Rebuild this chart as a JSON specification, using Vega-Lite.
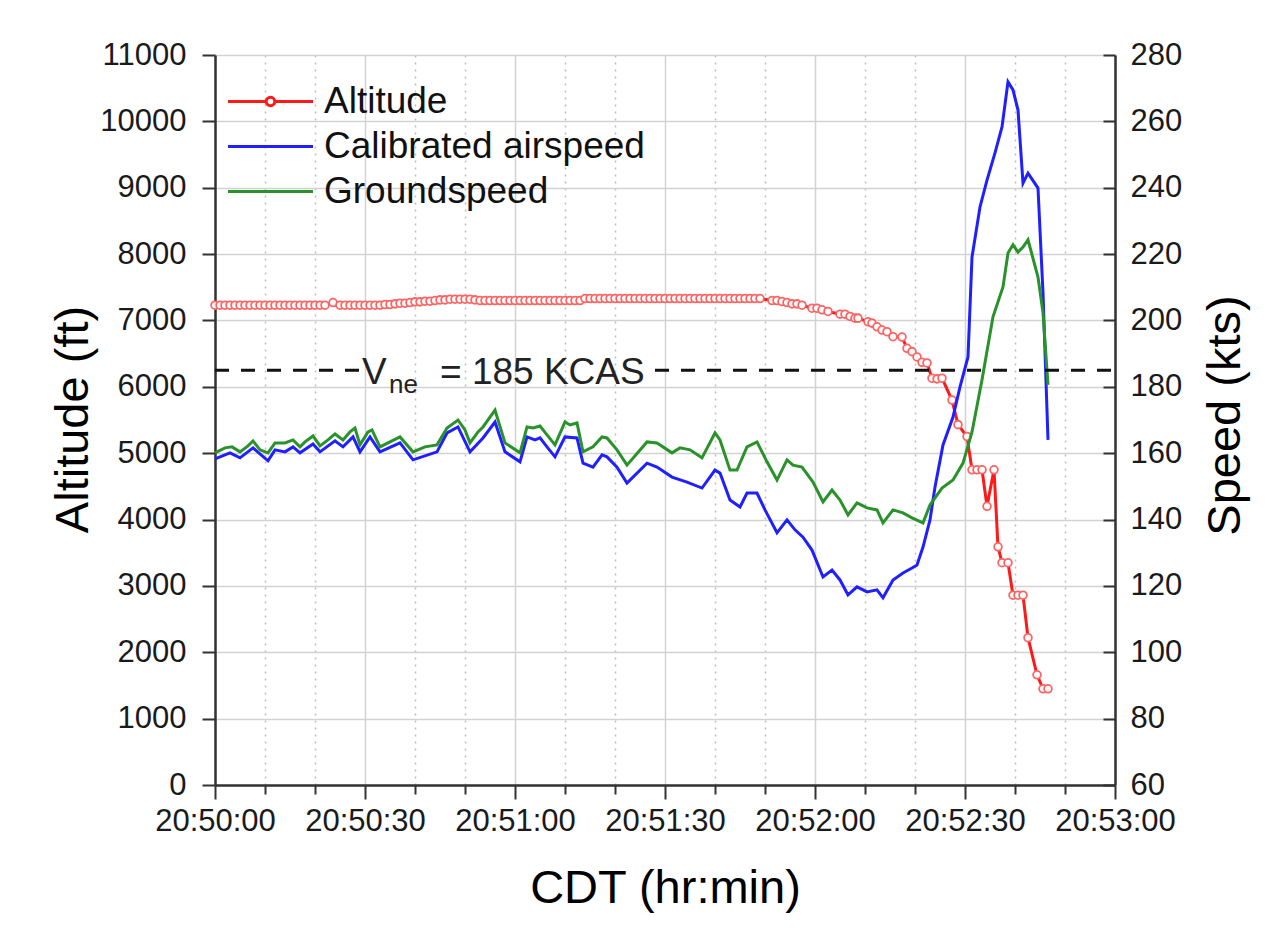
{
  "$schema": "https://vega.github.io/schema/vega-lite/v6.json",
  "autosize": {"type": "none"},
  "width": 900,
  "height": 730,
  "padding": {"left": 215, "top": 55, "right": 154, "bottom": 143},
  "background": "white",
  "config": {
    "view": {"stroke": null},
    "font": "Liberation Sans",
    "axis": {
      "labelFont": "Liberation Sans",
      "labelFontSize": 31,
      "labelColor": "#1a1a1a",
      "titleFont": "Liberation Sans",
      "titleFontSize": 47,
      "titleFontWeight": "normal",
      "titleColor": "#000000",
      "domainColor": "#333333",
      "domainWidth": 2.5,
      "tickColor": "#333333",
      "tickWidth": 2,
      "labelFlush": false,
      "labelOverlap": false
    },
    "legend": {
      "labelFont": "Liberation Sans",
      "labelFontSize": 37,
      "labelColor": "#111111",
      "labelLimit": 0
    }
  },
  "datasets": {
    "alt": [
      {"t":0,"a":7230},{"t":1,"a":7230},{"t":2,"a":7230},{"t":3,"a":7230},{"t":4,"a":7230},{"t":5,"a":7230},{"t":6,"a":7230},{"t":7,"a":7230},{"t":8,"a":7230},{"t":9,"a":7230},
      {"t":10,"a":7230},{"t":11,"a":7230},{"t":12,"a":7230},{"t":13,"a":7230},{"t":14,"a":7230},{"t":15,"a":7230},{"t":16,"a":7230},{"t":17,"a":7230},{"t":18,"a":7230},{"t":19,"a":7230},
      {"t":20,"a":7230},{"t":21,"a":7230},{"t":22,"a":7230},{"t":23.6,"a":7270},{"t":25,"a":7230},{"t":26,"a":7230},{"t":27,"a":7230},{"t":28,"a":7230},{"t":29,"a":7230},{"t":30,"a":7230},
      {"t":31,"a":7230},{"t":32,"a":7230},{"t":33,"a":7230},{"t":34,"a":7240},{"t":35,"a":7240},{"t":36,"a":7250},{"t":37,"a":7260},{"t":38,"a":7260},{"t":39,"a":7270},{"t":40,"a":7280},
      {"t":41,"a":7280},{"t":42,"a":7290},{"t":43,"a":7290},{"t":44,"a":7300},{"t":45,"a":7310},{"t":46,"a":7310},{"t":47,"a":7320},{"t":48,"a":7320},{"t":49,"a":7320},{"t":50,"a":7320},
      {"t":51,"a":7320},{"t":52,"a":7310},{"t":53,"a":7300},{"t":54,"a":7300},{"t":55,"a":7300},{"t":56,"a":7300},{"t":57,"a":7300},{"t":58,"a":7300},{"t":59,"a":7300},{"t":60,"a":7300},
      {"t":61,"a":7300},{"t":62,"a":7300},{"t":63,"a":7300},{"t":64,"a":7300},{"t":65,"a":7300},{"t":66,"a":7300},{"t":67,"a":7300},{"t":68,"a":7300},{"t":69,"a":7300},{"t":70,"a":7300},
      {"t":71,"a":7300},{"t":72,"a":7300},{"t":73,"a":7300},{"t":74,"a":7330},{"t":75,"a":7330},{"t":76,"a":7330},{"t":77,"a":7330},{"t":78,"a":7330},{"t":79,"a":7330},{"t":80,"a":7330},
      {"t":81,"a":7330},{"t":82,"a":7330},{"t":83,"a":7330},{"t":84,"a":7330},{"t":85,"a":7330},{"t":86,"a":7330},{"t":87,"a":7330},{"t":88,"a":7330},{"t":89,"a":7330},{"t":90,"a":7330},
      {"t":91,"a":7330},{"t":92,"a":7330},{"t":93,"a":7330},{"t":94,"a":7330},{"t":95,"a":7330},{"t":96,"a":7330},{"t":97,"a":7330},{"t":98,"a":7330},{"t":99,"a":7330},{"t":100,"a":7330},
      {"t":101,"a":7330},{"t":102,"a":7330},{"t":103,"a":7330},{"t":104,"a":7330},{"t":105,"a":7330},{"t":106,"a":7330},{"t":107,"a":7330},{"t":108,"a":7330},{"t":109,"a":7330},
      {"t":111.4,"a":7300},{"t":112.4,"a":7300},{"t":113.4,"a":7285},{"t":114.4,"a":7270},{"t":115.4,"a":7250},{"t":116.4,"a":7250},{"t":117.4,"a":7230},{"t":119.4,"a":7185},{"t":120.4,"a":7185},
      {"t":121.4,"a":7160},{"t":122.6,"a":7135},{"t":125,"a":7095},{"t":126,"a":7095},{"t":127,"a":7060},{"t":128,"a":7035},{"t":128.6,"a":7035},{"t":130.6,"a":6980},{"t":131.4,"a":6960},
      {"t":132.4,"a":6905},{"t":133.4,"a":6855},{"t":134.4,"a":6830},{"t":135.6,"a":6755},{"t":137.4,"a":6750},{"t":138.4,"a":6580},{"t":139.4,"a":6530},{"t":140.4,"a":6450},{"t":141.4,"a":6370},
      {"t":142.4,"a":6360},{"t":143.4,"a":6130},{"t":144.4,"a":6120},{"t":145.4,"a":6130},{"t":147.4,"a":5800},{"t":148.6,"a":5430},{"t":150.4,"a":5250},{"t":151.4,"a":4750},{"t":152.4,"a":4750},
      {"t":153.4,"a":4750},{"t":154.4,"a":4200},{"t":155.8,"a":4750},{"t":156.6,"a":3590},{"t":157.4,"a":3350},{"t":158.6,"a":3350},{"t":159.6,"a":2860},{"t":160.6,"a":2860},{"t":161.6,"a":2860},
      {"t":162.6,"a":2220},{"t":164.4,"a":1660},{"t":165.6,"a":1450},{"t":166.6,"a":1450}
    ],
    "cas": [
      {"t":0,"v":158.3},{"t":3,"v":160.1},{"t":5,"v":158.6},{"t":7.6,"v":161.6},{"t":10.6,"v":157.7},{"t":12,"v":161.0},{"t":14,"v":160.4},{"t":15.6,"v":161.9},{"t":17,"v":160.1},
      {"t":19.6,"v":162.8},{"t":21,"v":160.4},{"t":24,"v":163.7},{"t":25.6,"v":161.9},{"t":27.6,"v":164.9},{"t":29,"v":160.4},{"t":31,"v":164.9},{"t":33,"v":160.4},{"t":37,"v":163.1},
      {"t":39.6,"v":158.0},{"t":44.4,"v":160.4},{"t":46.4,"v":166.1},{"t":48.6,"v":167.9},{"t":51,"v":160.4},{"t":53.6,"v":164.6},{"t":56,"v":169.4},{"t":58,"v":160.4},{"t":61,"v":157.4},
      {"t":62.4,"v":164.9},{"t":64,"v":164.0},{"t":65,"v":164.6},{"t":66.4,"v":161.9},{"t":68,"v":158.9},{"t":70,"v":164.9},{"t":72.4,"v":164.6},{"t":73.6,"v":157.0},{"t":75.6,"v":155.8},
      {"t":77.4,"v":159.5},{"t":78.4,"v":158.9},{"t":80.4,"v":155.8},{"t":82.4,"v":151.0},{"t":86.4,"v":157.0},{"t":88.4,"v":155.8},{"t":91.4,"v":152.8},{"t":94.4,"v":151.3},{"t":97.4,"v":149.5},
      {"t":100,"v":154.9},{"t":101,"v":154.0},{"t":103,"v":145.9},{"t":105,"v":143.8},{"t":106.4,"v":148.0},{"t":108.4,"v":148.0},{"t":110,"v":142.9},{"t":112.4,"v":136.0},{"t":114.4,"v":139.9},
      {"t":116,"v":136.9},{"t":117.6,"v":134.7},{"t":119.4,"v":130.8},{"t":121.6,"v":122.7},{"t":123.4,"v":124.8},{"t":125,"v":121.8},{"t":126.6,"v":117.3},{"t":128.4,"v":119.7},{"t":130.4,"v":118.2},
      {"t":132.4,"v":118.8},{"t":133.6,"v":116.4},{"t":135.6,"v":121.8},{"t":137.6,"v":123.9},{"t":139.4,"v":125.4},{"t":140.4,"v":126.3},{"t":141.6,"v":131.7},{"t":143,"v":139.9},{"t":144,"v":149.8},
      {"t":145.6,"v":162.5},{"t":147.6,"v":170.9},{"t":149,"v":180.0},{"t":150.6,"v":189.0},{"t":151.4,"v":219.1},{"t":153,"v":234.2},{"t":154.4,"v":242.3},{"t":156,"v":250.5},{"t":157.4,"v":258.3},
      {"t":158.6,"v":271.9},{"t":159.6,"v":269.5},{"t":160.6,"v":263.4},{"t":161.6,"v":241.4},{"t":162.6,"v":244.4},{"t":164.6,"v":239.9},{"t":165.6,"v":208.3},{"t":166.6,"v":164.0}
    ],
    "gs": [
      {"t":0,"v":160.1},{"t":2,"v":161.6},{"t":3.4,"v":161.9},{"t":5,"v":160.4},{"t":6.6,"v":162.2},{"t":7.6,"v":163.7},{"t":9,"v":161.0},{"t":10.6,"v":160.1},{"t":12,"v":163.1},
      {"t":14,"v":163.1},{"t":15.6,"v":164.0},{"t":17,"v":161.9},{"t":18,"v":163.4},{"t":19.6,"v":165.2},{"t":21,"v":162.2},{"t":22.6,"v":164.0},{"t":24,"v":165.8},{"t":25.6,"v":164.0},
      {"t":27,"v":166.4},{"t":28,"v":167.6},{"t":29,"v":162.5},{"t":30.6,"v":166.4},{"t":31.4,"v":167.0},{"t":33,"v":161.9},{"t":35,"v":163.4},{"t":37,"v":164.9},{"t":39.6,"v":160.4},
      {"t":42,"v":161.9},{"t":44.4,"v":162.5},{"t":46.4,"v":167.6},{"t":48.6,"v":170.0},{"t":50,"v":167.0},{"t":51,"v":163.1},{"t":52.6,"v":166.4},{"t":53.6,"v":167.9},{"t":56,"v":173.0},
      {"t":58,"v":163.1},{"t":61,"v":160.1},{"t":62.4,"v":167.9},{"t":63.6,"v":167.6},{"t":65,"v":168.2},{"t":66.4,"v":165.5},{"t":68,"v":162.5},{"t":70,"v":169.4},{"t":71,"v":168.5},
      {"t":72.4,"v":169.1},{"t":73.6,"v":160.4},{"t":75.6,"v":161.9},{"t":77.4,"v":164.9},{"t":78.4,"v":164.6},{"t":80.4,"v":161.0},{"t":82.4,"v":156.4},{"t":86.4,"v":163.4},{"t":88.4,"v":163.1},
      {"t":91.4,"v":160.1},{"t":93,"v":161.6},{"t":95,"v":161.0},{"t":97.4,"v":158.6},{"t":100,"v":166.1},{"t":101,"v":164.0},{"t":103,"v":154.9},{"t":104.4,"v":154.9},{"t":106.4,"v":161.9},
      {"t":108.4,"v":163.4},{"t":110.4,"v":157.4},{"t":112.4,"v":151.9},{"t":114.4,"v":158.0},{"t":115.6,"v":156.4},{"t":117.4,"v":155.8},{"t":119.6,"v":151.3},{"t":121.6,"v":145.3},{"t":123.4,"v":148.9},
      {"t":125,"v":145.9},{"t":126.6,"v":141.4},{"t":128.4,"v":145.0},{"t":130.4,"v":143.5},{"t":132.4,"v":142.9},{"t":133.6,"v":139.0},{"t":135.6,"v":142.9},{"t":137.6,"v":142.0},{"t":139.4,"v":140.5},
      {"t":141.6,"v":139.0},{"t":143,"v":144.4},{"t":145.4,"v":149.5},{"t":147.6,"v":151.9},{"t":149.6,"v":157.0},{"t":151.4,"v":166.4},{"t":153.4,"v":182.1},{"t":155.6,"v":201.1},{"t":157.6,"v":210.1},
      {"t":158.6,"v":220.3},{"t":159.6,"v":222.8},{"t":160.6,"v":220.6},{"t":161.6,"v":222.1},{"t":162.6,"v":224.3},{"t":164.6,"v":213.1},{"t":165.6,"v":202.3},{"t":166.6,"v":180.6}
    ],
    "vne": [
      {"t": 0, "t2": 29, "v": 185},
      {"t": 88, "t2": 180, "v": 185}
    ],
    "vlabel": [
      {"t": 29.4, "v": 185}
    ]
  },
  "layer": [
    {
      "data": {"name": "alt"},
      "encoding": {
        "x": {
          "field": "t", "type": "quantitative",
          "scale": {"domain": [0, 180], "nice": false, "zero": false},
          "axis": {
            "orient": "bottom",
            "values": [0, 30, 60, 90, 120, 150, 180],
            "labelExpr": "'20:' + (50 + floor(datum.value / 60)) + ':' + (datum.value % 60 < 10 ? '0' : '') + (datum.value % 60)",
            "title": "CDT (hr:min)",
            "grid": true,
            "gridColor": "#d2d2d2",
            "gridWidth": 1.5,
            "tickSize": 14,
            "labelPadding": 7,
            "titleX": 450,
            "titleY": 117,
            "titleAlign": "center",
            "titleBaseline": "alphabetic"
          }
        },
        "y": {
          "field": "a", "type": "quantitative",
          "scale": {"domain": [0, 11000], "nice": false},
          "axis": {
            "orient": "left",
            "values": [0, 1000, 2000, 3000, 4000, 5000, 6000, 7000, 8000, 9000, 10000, 11000],
            "format": "d",
            "title": "Altitude (ft)",
            "grid": true,
            "gridColor": "#d2d2d2",
            "gridWidth": 1.5,
            "tickSize": 13,
            "labelPadding": 16,
            "titleAngle": 270,
            "titleX": -128,
            "titleY": 364,
            "titleAlign": "center",
            "titleBaseline": "alphabetic"
          }
        }
      },
      "layer": [
        {
          "mark": {"type": "line", "strokeWidth": 3},
          "encoding": {
            "color": {
              "datum": "Altitude", "type": "nominal",
              "scale": {
                "domain": ["Altitude", "Calibrated airspeed", "Groundspeed"],
                "range": ["#ff1a1a", "#1f1fff", "#2a922a"]
              },
              "legend": {
                "orient": "none",
                "legendX": 37,
                "legendY": 28,
                "title": null,
                "padding": 0,
                "symbolSize": 100,
                "symbolStrokeWidth": 3,
                "labelOffset": 35,
                "rowPadding": 7,
                "labelFontSize": 37,
                "labelLimit": 0,
                "encode": {
                  "symbols": {
                    "update": {
                      "shape": {"signal": "datum.value === 'Altitude' ? 'M-8.5,0H-0.85M0.85,0H8.5M-0.85,0A0.85,0.85,0,1,1,0.85,0A0.85,0.85,0,1,1,-0.85,0' : 'M-8.5,0H8.5'"},
                      "fill": {"value": "white"},
                      "strokeWidth": {"value": 3}
                    }
                  }
                }
              }
            }
          }
        },
        {
          "mark": {"type": "point", "shape": "circle", "filled": true, "fill": "white", "stroke": "#ff6464", "strokeWidth": 1.8, "size": 60, "opacity": 1}
        }
      ]
    },
    {
      "encoding": {
        "x": {
          "field": "t", "type": "quantitative",
          "axis": {
            "orient": "bottom",
            "values": [10, 20, 40, 50, 70, 80, 100, 110, 130, 140, 160, 170],
            "labels": false,
            "domain": false,
            "title": null,
            "grid": true,
            "gridDash": [2, 5],
            "gridColor": "#bdbdbd",
            "gridWidth": 1.5,
            "tickSize": 9
          }
        },
        "y": {
          "field": "v", "type": "quantitative",
          "scale": {"domain": [60, 280], "nice": false, "zero": false},
          "axis": {
            "orient": "right",
            "values": [60, 80, 100, 120, 140, 160, 180, 200, 220, 240, 260, 280],
            "format": "d",
            "title": "Speed (kts)",
            "grid": false,
            "tickSize": -12,
            "labelPadding": 27,
            "titleAngle": 270,
            "titleX": 124,
            "titleY": 360,
            "titleAlign": "center",
            "titleBaseline": "alphabetic"
          }
        }
      },
      "layer": [
        {
          "data": {"name": "cas"},
          "mark": {"type": "line", "strokeWidth": 3},
          "encoding": {"color": {"datum": "Calibrated airspeed", "type": "nominal"}}
        },
        {
          "data": {"name": "gs"},
          "mark": {"type": "line", "strokeWidth": 3},
          "encoding": {"color": {"datum": "Groundspeed", "type": "nominal"}}
        },
        {
          "data": {"name": "vne"},
          "mark": {"type": "rule", "color": "#111111", "strokeWidth": 3, "strokeDash": [14, 12]},
          "encoding": {
            "x2": {"field": "t2"}
          }
        },
        {
          "data": {"name": "vlabel"},
          "mark": {"type": "text", "text": "V", "align": "left", "baseline": "alphabetic", "fontSize": 37, "dy": 14, "color": "#222222", "font": "Liberation Sans"}
        },
        {
          "data": {"name": "vlabel"},
          "mark": {"type": "text", "text": "ne", "align": "left", "baseline": "alphabetic", "fontSize": 26, "dx": 27, "dy": 23, "color": "#222222", "font": "Liberation Sans"}
        },
        {
          "data": {"name": "vlabel"},
          "mark": {"type": "text", "text": "= 185 KCAS", "align": "left", "baseline": "alphabetic", "fontSize": 37, "dx": 78, "dy": 14, "color": "#222222", "font": "Liberation Sans"}
        }
      ]
    }
  ],
  "resolve": {
    "scale": {"y": "independent"},
    "axis": {"x": "independent"}
  }
}
